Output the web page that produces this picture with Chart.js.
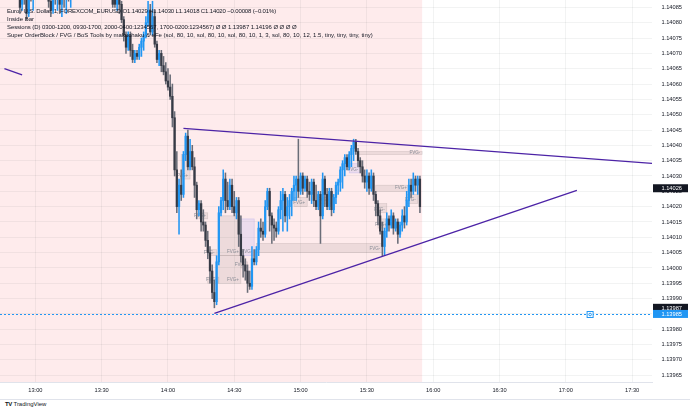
<!DOCTYPE html>
<html>
<head>
<meta charset="utf-8">
<script src="https://cdn.jsdelivr.net/npm/chart.js@4.4.1/dist/chart.umd.min.js"></script>
<style>
  html, body { margin: 0; padding: 0; background: #fff; }
  #frame { position: relative; width: 690px; height: 409px; overflow: hidden; font-family: 'Liberation Sans', Arial, sans-serif; color: #131722; }
  #chart { position: absolute; left: 0; top: 0; }
  #legend { position: absolute; left: 7px; top: 8px; font-size: 6px; line-height: 7.9px; white-space: pre; }
  #legend .l1 { letter-spacing: -0.15px; }
  #legend .l3 { letter-spacing: -0.08px; }
  #footer { position: absolute; left: 5px; top: 400px; font-size: 6px; line-height: 9px; white-space: pre; }
  #footer b { font-weight: 900; letter-spacing: -0.4px; }
</style>
</head>
<body>
<div id="frame">
  <canvas id="chart" width="690" height="400"></canvas>
  <div id="legend"><span class="l1">Euro / U.S. Dollar, 1, FOREXCOM_EURUSD O1.14029 H1.14030 L1.14018 C1.14020 −0.00008 (−0.01%)</span>
Inside Bar
<span class="l3">Sessions (D) 0300-1200, 0930-1700, 2000-0400:1234567, 1700-0200:1234567) Ø Ø 1.13987 1.14196 Ø Ø Ø Ø</span>
Super OrderBlock / FVG / BoS Tools by makuchaku &amp; eFe (sol, 80, 10, sol, 80, 10, sol, 80, 10, 1, 3, sol, 80, 10, 12, 1.5, tiny, tiny, tiny, tiny)</div>
  <div id="footer"><b>TV</b> TradingView</div>
</div>
<script>
// ── Data ─────────────────────────────────────────────────────────────────────

// one candle per minute from startTime; null = bar is above the visible range
const startTime = '12:53';
const opens = [
  1.14091, 1.14086, 1.14091, 1.14088, 1.14083, 1.14092, 1.14090,
  null, null, null, null, null, null,
  1.14092, 1.14087, 1.14084, 1.14090, 1.14088, 1.14092, 1.14086, 1.14093, 1.14089, 1.14094, 1.14091,
  null, null, null, null, null, null, null, null, null, null, null, null, null, null, null, null, null, null,
  1.14089, 1.14090, 1.14086, 1.14089, 1.14086, 1.14081, 1.14076, 1.14072, 1.14076, 1.14071,
  1.14068, 1.14070, 1.14069, 1.14072, 1.14074, 1.14076, 1.14080, 1.14084, 1.14077, 1.14082,
  1.14073, 1.14068, 1.14070, 1.14066, 1.14064, 1.14061, 1.14059, 1.14056, 1.14049, 1.14032,
  1.14020, 1.14027, 1.14024, 1.14037, 1.14043, 1.14033, 1.14038, 1.14033, 1.14027, 1.14019,
  1.14021, 1.14015, 1.14014, 1.14009, 1.14005, 1.13999, 1.13992, 1.13989, 1.14002, 1.14018,
  1.14022, 1.14029, 1.14022, 1.14020, 1.14027, 1.14020, 1.14018, 1.14022, 1.14011, 1.14004,
  1.14001, 1.13999, 1.13995, 1.13994, 1.14003, 1.14002, 1.14006, 1.14013, 1.14012, 1.14011,
  1.14020, 1.14025, 1.14017, 1.14014, 1.14013, 1.14012, 1.14019, 1.14022, 1.14024, 1.14017,
  1.14020, 1.14022, 1.14025, 1.14027, 1.14029, 1.14025, 1.14030, 1.14026, 1.14029, 1.14025,
  1.14024, 1.14028, 1.14022, 1.14020, 1.14024, 1.14017, 1.14029, 1.14024, 1.14020, 1.14025,
  1.14019, 1.14023, 1.14027, 1.14028, 1.14032, 1.14034, 1.14036, 1.14033, 1.14037, 1.14039,
  1.14041, 1.14038, 1.14035, 1.14033, 1.14030, 1.14028, 1.14030, 1.14026, 1.14030, 1.14024,
  1.14021, 1.14017, 1.14012, 1.14007, 1.14012, 1.14016, 1.14014, 1.14017, 1.14013, 1.14015,
  1.14011, 1.14014, 1.14017, 1.14015, 1.14022, 1.14027, 1.14025, 1.14029, 1.14027, 1.14029,
];
const highs = [
  1.14095, 1.14093, 1.14096, 1.14092, 1.14094, 1.14097, 1.14095,
  null, null, null, null, null, null,
  1.14096, 1.14091, 1.14093, 1.14095, 1.14094, 1.14096, 1.14095, 1.14098, 1.14096, 1.14099, 1.14097,
  null, null, null, null, null, null, null, null, null, null, null, null, null, null, null, null, null, null,
  1.14090, 1.14091, 1.14091, 1.14090, 1.14087, 1.14082, 1.14077, 1.14077, 1.14077, 1.14073,
  1.14071, 1.14071, 1.14073, 1.14075, 1.14077, 1.14082, 1.14087, 1.14086, 1.14087, 1.14084,
  1.14074, 1.14071, 1.14071, 1.14069, 1.14067, 1.14065, 1.14063, 1.14060, 1.14051, 1.14038,
  1.14029, 1.14032, 1.14038, 1.14044, 1.14045, 1.14042, 1.14040, 1.14036, 1.14028, 1.14022,
  1.14022, 1.14019, 1.14015, 1.14012, 1.14007, 1.14001, 1.13996, 1.14004, 1.14020, 1.14023,
  1.14032, 1.14031, 1.14028, 1.14029, 1.14029, 1.14025, 1.14023, 1.14023, 1.14017, 1.14006,
  1.14003, 1.14001, 1.13999, 1.14007, 1.14006, 1.14007, 1.14015, 1.14016, 1.14015, 1.14022,
  1.14026, 1.14026, 1.14018, 1.14016, 1.14015, 1.14020, 1.14025, 1.14026, 1.14025, 1.14023,
  1.14024, 1.14026, 1.14030, 1.14030, 1.14042, 1.14031, 1.14031, 1.14030, 1.14030, 1.14028,
  1.14029, 1.14029, 1.14027, 1.14025, 1.14025, 1.14031, 1.14030, 1.14026, 1.14026, 1.14026,
  1.14024, 1.14028, 1.14029, 1.14033, 1.14035, 1.14037, 1.14037, 1.14038, 1.14040, 1.14042,
  1.14042, 1.14039, 1.14036, 1.14035, 1.14032, 1.14032, 1.14031, 1.14032, 1.14031, 1.14025,
  1.14022, 1.14019, 1.14015, 1.14013, 1.14018, 1.14017, 1.14019, 1.14018, 1.14016, 1.14016,
  1.14015, 1.14019, 1.14020, 1.14025, 1.14029, 1.14029, 1.14031, 1.14030, 1.14030, 1.14030,
];
const lows = [
  1.14083, 1.14084, 1.14086, 1.14081, 1.14082, 1.14087, 1.14084,
  null, null, null, null, null, null,
  1.14085, 1.14082, 1.14083, 1.14086, 1.14084, 1.14083, 1.14082, 1.14085, 1.14083, 1.14087, 1.14085,
  null, null, null, null, null, null, null, null, null, null, null, null, null, null, null, null, null, null,
  1.14085, 1.14085, 1.14084, 1.14083, 1.14080, 1.14074, 1.14070, 1.14071, 1.14069, 1.14067,
  1.14067, 1.14068, 1.14068, 1.14069, 1.14071, 1.14075, 1.14079, 1.14076, 1.14076, 1.14072,
  1.14067, 1.14066, 1.14064, 1.14063, 1.14060, 1.14058, 1.14055, 1.14046, 1.14030, 1.14018,
  1.14011, 1.14022, 1.14023, 1.14035, 1.14032, 1.14032, 1.14032, 1.14023, 1.14016, 1.14017,
  1.14012, 1.14012, 1.14007, 1.14003, 1.13995, 1.13990, 1.13987, 1.13988, 1.14001, 1.14017,
  1.14019, 1.14018, 1.14019, 1.14019, 1.14018, 1.14017, 1.14016, 1.14007, 1.14002, 1.13997,
  1.13996, 1.13992, 1.13993, 1.13993, 1.14001, 1.14001, 1.14004, 1.14010, 1.14009, 1.14010,
  1.14019, 1.14012, 1.14008, 1.14009, 1.14010, 1.14011, 1.14016, 1.14012, 1.14015, 1.14012,
  1.14016, 1.14017, 1.14022, 1.14022, 1.14023, 1.14024, 1.14024, 1.14025, 1.14023, 1.14022,
  1.14021, 1.14020, 1.14019, 1.14019, 1.14008, 1.14016, 1.14020, 1.14019, 1.14019, 1.14017,
  1.14018, 1.14021, 1.14024, 1.14025, 1.14026, 1.14030, 1.14032, 1.14032, 1.14033, 1.14035,
  1.14037, 1.14033, 1.14031, 1.14028, 1.14026, 1.14025, 1.14024, 1.14025, 1.14022, 1.14017,
  1.14014, 1.14011, 1.14004, 1.14004, 1.14010, 1.14012, 1.14013, 1.14011, 1.14012, 1.14008,
  1.14010, 1.14012, 1.14013, 1.14014, 1.14020, 1.14023, 1.14024, 1.14025, 1.14024, 1.14018,
];
const closes = [
  1.14085, 1.14091, 1.14088, 1.14083, 1.14092, 1.14090, 1.14093,
  null, null, null, null, null, null,
  1.14087, 1.14084, 1.14090, 1.14088, 1.14092, 1.14086, 1.14093, 1.14089, 1.14094, 1.14091, 1.14095,
  null, null, null, null, null, null, null, null, null, null, null, null, null, null, null, null, null, null,
  1.14086, 1.14086, 1.14089, 1.14086, 1.14081, 1.14076, 1.14072, 1.14076, 1.14071, 1.14068,
  1.14070, 1.14069, 1.14072, 1.14074, 1.14076, 1.14080, 1.14084, 1.14077, 1.14082, 1.14073,
  1.14068, 1.14070, 1.14066, 1.14064, 1.14061, 1.14059, 1.14056, 1.14049, 1.14032, 1.14020,
  1.14027, 1.14024, 1.14037, 1.14043, 1.14033, 1.14038, 1.14033, 1.14027, 1.14019, 1.14021,
  1.14015, 1.14014, 1.14009, 1.14005, 1.13999, 1.13992, 1.13989, 1.14002, 1.14018, 1.14022,
  1.14029, 1.14022, 1.14020, 1.14027, 1.14020, 1.14018, 1.14022, 1.14011, 1.14004, 1.14001,
  1.13999, 1.13995, 1.13994, 1.14003, 1.14002, 1.14006, 1.14013, 1.14012, 1.14011, 1.14020,
  1.14025, 1.14017, 1.14014, 1.14013, 1.14012, 1.14019, 1.14022, 1.14024, 1.14017, 1.14020,
  1.14022, 1.14025, 1.14027, 1.14029, 1.14025, 1.14030, 1.14026, 1.14029, 1.14025, 1.14024,
  1.14028, 1.14022, 1.14020, 1.14024, 1.14017, 1.14029, 1.14024, 1.14020, 1.14025, 1.14019,
  1.14023, 1.14027, 1.14028, 1.14032, 1.14034, 1.14036, 1.14033, 1.14037, 1.14039, 1.14041,
  1.14038, 1.14035, 1.14033, 1.14030, 1.14028, 1.14030, 1.14026, 1.14030, 1.14024, 1.14021,
  1.14017, 1.14012, 1.14007, 1.14012, 1.14016, 1.14014, 1.14017, 1.14013, 1.14015, 1.14011,
  1.14014, 1.14017, 1.14015, 1.14022, 1.14027, 1.14025, 1.14029, 1.14027, 1.14029, 1.14020,
];

// axes
const viewStart = '12:44';
const viewEnd = '17:39';
const priceMin = 1.139628;
const priceMax = 1.140874;
const timeTicks = ['13:00', '13:30', '14:00', '14:30', '15:00', '15:30', '16:00', '16:30', '17:00', '17:30'];
const priceTicks = [
  1.13965, 1.13970, 1.13975, 1.13980, 1.13985, 1.13990, 1.13995, 1.14000, 1.14005,
  1.14010, 1.14015, 1.14020, 1.14025, 1.14030, 1.14035, 1.14040, 1.14045, 1.14050,
  1.14055, 1.14060, 1.14065, 1.14070, 1.14075, 1.14080, 1.14085,
];
const sessionEnd = '15:55';

// trendlines: upper triangle side, lower triangle side, stub at top left
const trendFrom      = ['14:07', '14:21', '12:46'];
const trendTo        = ['17:39', '17:05', '12:54'];
const trendFromPrice = [1.140455, 1.139852, 1.14065];
const trendToPrice   = [1.140341, 1.140253, 1.14063];

// fair value gap boxes
const fvgFrom   = ['14:06', '14:23', '14:33', '14:23', '14:40', '15:26', '15:34', '14:57', '15:09', '15:22', '15:34', '15:35', '15:48', '14:14', '14:18', '14:33', '14:18'];
const fvgTo     = ['14:10', '14:33', '14:39', '14:33', '15:37', '15:55', '15:49', '15:03', '15:14', '15:27', '15:39', '15:40', '15:53', '14:18', '14:23', '14:36', '14:22'];
const fvgTop    = [1.14037, 1.14017, 1.14016, 1.14004, 1.14008, 1.14038, 1.14027, 1.14023, 1.14024, 1.14034, 1.14021, 1.14016, 1.14024, 1.14018, 1.13997, 1.14002, 1.14006];
const fvgBottom = [1.14029, 1.14004, 1.14004, 1.13995, 1.14005, 1.14037, 1.14025, 1.14020, 1.14021, 1.14031, 1.14018, 1.14013, 1.14021, 1.14016, 1.13995, 1.14000, 1.14004];
const fvgLabel  = ['FVG+', 'FVG+', 'FVG-', 'FVG+', 'FVG-', 'FVG-', 'FVG+', 'FVG+', 'FVG+', 'FVG-', 'FVG-', 'FVG+', 'FVG-', 'FVG+', 'FVG-', 'FVG-', 'FVG-'];
const fvgKind   = ['gray', 'gray', 'violet', 'gray', 'gray', 'gray', 'gray', 'gray', 'gray', 'violet', 'gray', 'gray', 'gray', 'gray', 'gray', 'gray', 'gray'];

// price level + axis badges
const levelPrice = 1.13985;
const levelMarker = '17:11';
const badgePrices = [1.14026, 1.13987, 1.13985];
const badgeKind   = ['dark', 'dark', 'blue'];

// ── Helpers ──────────────────────────────────────────────────────────────────

const FONT = "'Liberation Sans', Arial, sans-serif";
const UP = '#2196f3';
const DOWN = '#363a45';
const DOWN_WICK = '#6a6d78';
const PURPLE = '#4c23a6';
const BLUE = '#2196f3';

function toMin(s) {
  const [h, m] = s.split(':').map(Number);
  return (h - 13) * 60 + m;
}

const t0 = toMin(startTime);
const candles = [];
opens.forEach((o, i) => {
  if (o === null) return;
  candles.push({ x: t0 + i, o, h: highs[i], l: lows[i], c: closes[i] });
});

const isUp = c => c.c >= c.o;

// ── Overlays plugin ──────────────────────────────────────────────────────────

const overlays = {
  id: 'overlays',
  beforeDraw(chart) {
    const { ctx, chartArea: a, scales: { x } } = chart;
    ctx.save();
    ctx.fillStyle = '#fff';
    ctx.fillRect(0, 0, chart.width, chart.height);
    ctx.fillStyle = 'rgba(242,54,69,0.1)';
    const xe = x.getPixelForValue(toMin(sessionEnd));
    ctx.fillRect(a.left, a.top, xe - a.left, a.bottom - a.top);
    ctx.restore();
  },
  beforeDatasetsDraw(chart) {
    const { ctx, chartArea: a, scales: { x, y } } = chart;
    ctx.save();
    ctx.beginPath();
    ctx.rect(a.left, a.top, a.right - a.left, a.bottom - a.top);
    ctx.clip();
    fvgFrom.forEach((f, i) => {
      const x0 = x.getPixelForValue(toMin(f));
      const x1 = x.getPixelForValue(toMin(fvgTo[i]));
      const y0 = y.getPixelForValue(fvgTop[i]);
      const y1 = y.getPixelForValue(fvgBottom[i]);
      const violet = fvgKind[i] === 'violet';
      ctx.fillStyle = violet ? 'rgba(140,140,240,0.16)' : 'rgba(120,110,110,0.13)';
      ctx.strokeStyle = violet ? 'rgba(140,140,240,0.35)' : 'rgba(120,110,110,0.25)';
      ctx.lineWidth = 0.6;
      ctx.fillRect(x0, y0, x1 - x0, y1 - y0);
      ctx.strokeRect(x0, y0, x1 - x0, y1 - y0);
      ctx.fillStyle = '#8a8d96';
      ctx.font = `4.5px ${FONT}`;
      ctx.textAlign = 'right';
      ctx.textBaseline = 'middle';
      const ty = y1 - Math.min((y1 - y0) / 2, 3.5);
      ctx.fillText(fvgLabel[i], x1 - 2, ty);
    });
    ctx.restore();
  },
  afterDatasetsDraw(chart) {
    const { ctx, chartArea: a, scales: { x, y } } = chart;
    const ly = Math.round(y.getPixelForValue(levelPrice)) + 0.5;
    ctx.save();
    ctx.strokeStyle = BLUE;
    ctx.lineWidth = 1;
    ctx.setLineDash([2, 2]);
    ctx.beginPath();
    ctx.moveTo(a.left, ly);
    ctx.lineTo(a.right, ly);
    ctx.stroke();
    ctx.setLineDash([]);
    const mx = x.getPixelForValue(toMin(levelMarker));
    ctx.fillStyle = '#fff';
    ctx.fillRect(mx - 3, ly - 3, 6, 6);
    ctx.strokeRect(mx - 3, ly - 3, 6, 6);
    ctx.beginPath();
    ctx.arc(mx, ly, 1.3, 0, Math.PI * 2);
    ctx.stroke();
    ctx.restore();
  },
  afterDraw(chart) {
    const { ctx, chartArea: a, scales: { x, y } } = chart;
    ctx.save();
    ctx.strokeStyle = '#e0e3eb';
    ctx.lineWidth = 1;
    ctx.beginPath();
    ctx.moveTo(0, x.bottom - 0.5);
    ctx.lineTo(chart.width, x.bottom - 0.5);
    ctx.stroke();
    ctx.font = `5.7px ${FONT}`;
    ctx.textAlign = 'right';
    ctx.textBaseline = 'middle';
    badgePrices.forEach((p, i) => {
      const by = y.getPixelForValue(p);
      ctx.fillStyle = badgeKind[i] === 'blue' ? BLUE : '#131722';
      ctx.fillRect(a.right + 1, by - 4, 35, 8);
      ctx.fillStyle = '#fff';
      ctx.fillText(p.toFixed(5), y.right, by + 0.3);
    });
    ctx.restore();
  },
};

// ── Chart ────────────────────────────────────────────────────────────────────

const trendSets = trendFrom.map((f, i) => ({
  type: 'line',
  data: [
    { x: toMin(f), y: trendFromPrice[i] },
    { x: toMin(trendTo[i]), y: trendToPrice[i] },
  ],
  borderColor: PURPLE,
  borderWidth: 1.3,
  pointRadius: 0,
  order: 0,
}));

new Chart(document.getElementById('chart'), {
  type: 'bar',
  data: {
    datasets: [
      {
        label: 'wick',
        data: candles.map(c => ({ x: c.x, y: [c.l, c.h] })),
        backgroundColor: candles.map(c => isUp(c) ? UP : DOWN_WICK),
        barThickness: 0.9,
        grouped: false,
        order: 2,
      },
      {
        label: 'body',
        data: candles.map(c => ({ x: c.x, y: [c.o, c.c] })),
        backgroundColor: candles.map(c => isUp(c) ? UP : DOWN),
        barThickness: 1.6,
        minBarLength: 1,
        grouped: false,
        order: 1,
      },
      ...trendSets,
    ],
  },
  options: {
    responsive: false,
    animation: false,
    events: [],
    layout: { padding: { top: 0, left: 0, bottom: 0, right: 8 } },
    plugins: { legend: { display: false }, tooltip: { enabled: false } },
    scales: {
      x: {
        type: 'linear',
        min: toMin(viewStart),
        max: toMin(viewEnd),
        offset: false,
        afterBuildTicks: s => { s.ticks = timeTicks.map(t => ({ value: toMin(t) })); },
        afterFit: s => { s.height = 18; },
        ticks: {
          autoSkip: false,
          maxRotation: 0,
          padding: 5,
          color: '#131722',
          font: { family: FONT, size: 5.7 },
          callback: (v, i) => timeTicks[i],
        },
        grid: { color: 'rgba(42,46,57,0.06)', drawTicks: false, offset: false },
        border: { display: true, color: '#e0e3eb' },
      },
      y: {
        type: 'linear',
        position: 'right',
        min: priceMin,
        max: priceMax,
        afterBuildTicks: s => { s.ticks = priceTicks.map(v => ({ value: v })); },
        afterFit: s => { s.width = 30; },
        ticks: {
          padding: 0,
          crossAlign: 'far',
          color: '#131722',
          font: { family: FONT, size: 5.7, lineHeight: 0.01 },
          callback: v => v.toFixed(5),
        },
        grid: { color: 'rgba(42,46,57,0.06)', drawTicks: false },
        border: { display: false },
      },
    },
  },
  plugins: [overlays],
});
</script>
</body>
</html>
